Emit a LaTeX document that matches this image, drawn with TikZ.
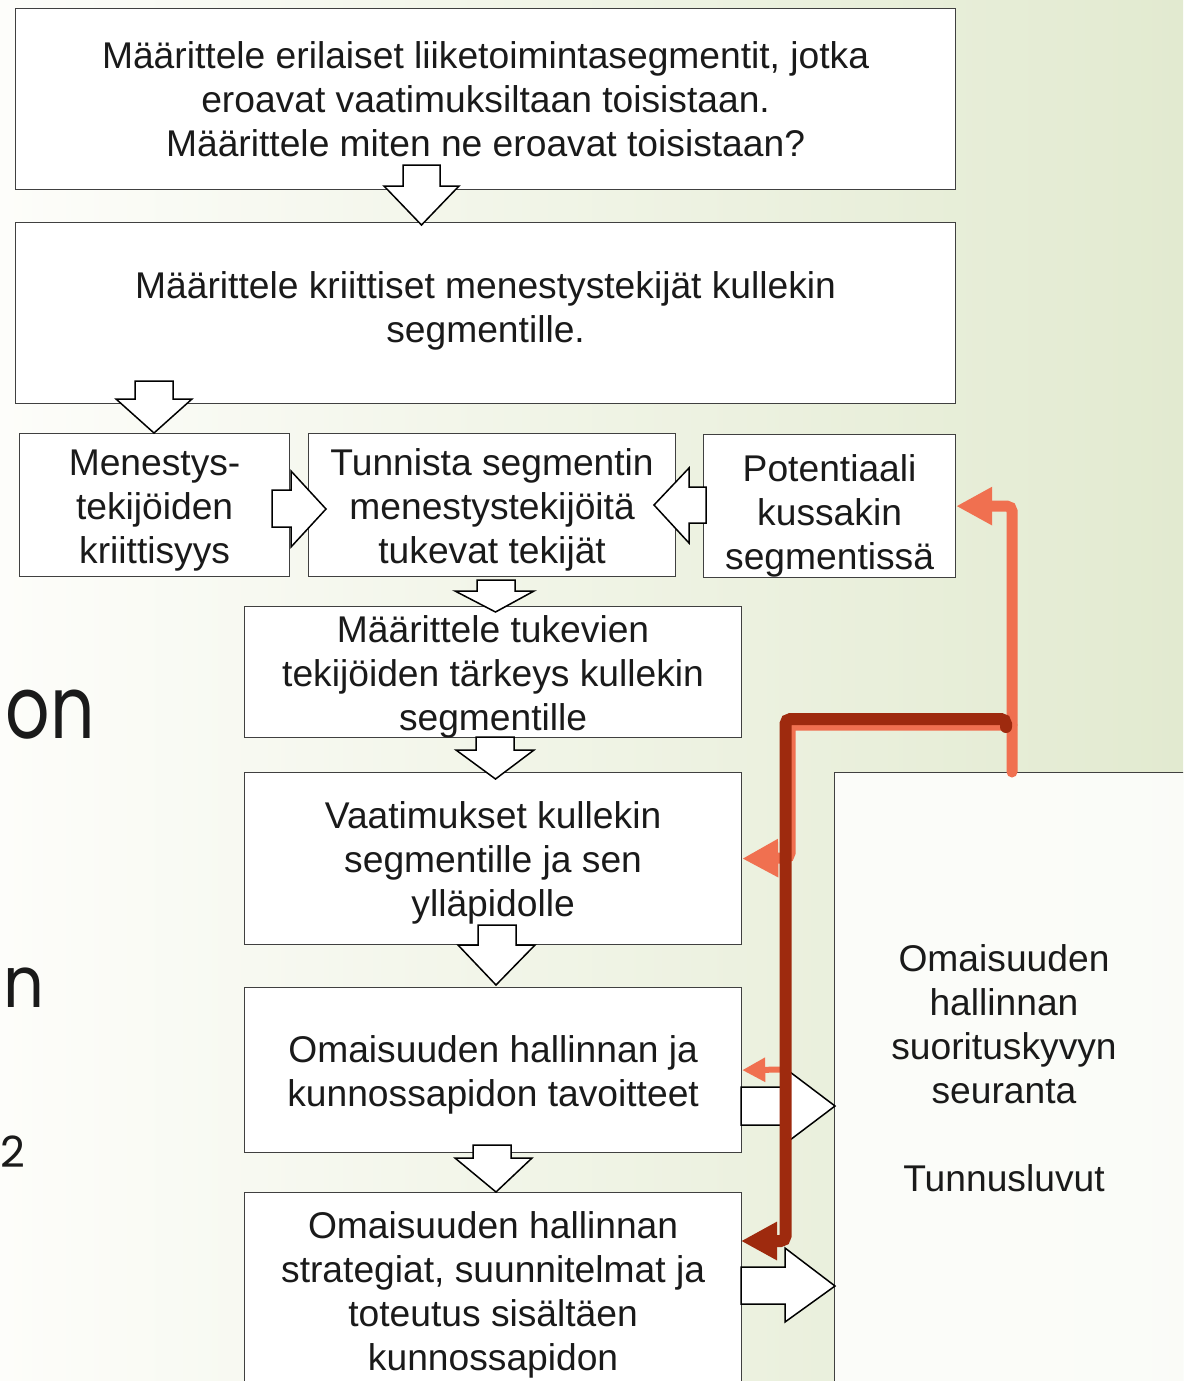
\documentclass[tikz,border=0pt]{standalone}
\usepackage{fontspec}
\setmainfont{Liberation Sans}
\newfontfamily\gothic{Poppins}
\usetikzlibrary{arrows.meta}
\definecolor{txt}{RGB}{26,26,26}
\definecolor{boxline}{RGB}{64,64,64}
\definecolor{orangeln}{RGB}{240,112,80}
\definecolor{darkred}{RGB}{158,42,14}
\definecolor{bgA}{RGB}{253,253,250}
\definecolor{bgB}{RGB}{226,234,208}
\begin{document}
\begin{tikzpicture}[x=1pt,y=-1pt,
  box/.style={draw=boxline, line width=1.2pt, fill=white, inner sep=0pt, anchor=north west},
  boxtext/.style={text=txt, align=center, inner sep=0pt, font=\fontsize{37.2}{44}\selectfont},
  sidetext/.style={text=txt, inner sep=0pt, anchor=base east},
  barrow/.style={draw=black, line width=1.5pt, fill=white, line join=miter},
  orangeconn/.style={draw=orangeln, line width=11pt, line cap=round, rounded corners=5pt,
    -{Triangle[length=36pt,width=36pt]}},
  orangesmall/.style={draw=orangeln, line width=6pt, -{Triangle[length=23pt,width=23pt]}},
  redconn/.style={draw=darkred, line width=12pt, line cap=round, rounded corners=5pt,
    -{Triangle[length=36pt,width=36pt]}}
]
\useasboundingbox (0,0) rectangle (1183,1381);
\clip (0,0) rectangle (1183,1381);
% background
\shade[left color=bgA, right color=bgB] (0,0) rectangle (1183,1381);

% left fragments
\node[sidetext, font=\gothic\fontsize{87}{100}\selectfont] (t1) at (95,738) {\scalebox{0.8}[1]{on}};
\node[sidetext, font=\gothic\fontsize{71}{80}\selectfont] (t2) at (45,1007) {\scalebox{0.9}[1]{n}};
\node[sidetext, font=\gothic\fontsize{43}{50}\selectfont] (t3) at (25,1167) {2};

% boxes
\node[box, minimum width=940, minimum height=181] (a) at (15,8) {};
\node[box, minimum width=940, minimum height=181] (b) at (15,222) {};
\node[box, minimum width=270, minimum height=143] (c1) at (19,433) {};
\node[box, minimum width=367, minimum height=143] (c2) at (308,433) {};
\node[box, minimum width=252, minimum height=143] (c3) at (703,434) {};
\node[box, minimum width=497, minimum height=131] (d) at (244,606) {};
\node[box, minimum width=497, minimum height=172] (e) at (244,772) {};
\node[box, minimum width=497, minimum height=165] (f) at (244,987) {};
\node[box, minimum width=497, minimum height=200] (g) at (244,1192) {};
\node[box, minimum width=400, minimum height=700, fill=white, fill opacity=0.85] (h) at (834,772) {};

% box texts
\node[boxtext] (at) at (a.center)
  {Määrittele erilaiset liiketoimintasegmentit, jotka\\ eroavat vaatimuksiltaan toisistaan.\\ Määrittele miten ne eroavat toisistaan?};
\node[boxtext, yshift=2pt] (bt) at (b.center)
  {Määrittele kriittiset menestystekijät kullekin\\ segmentille.};
\node[boxtext, yshift=-5pt] (c1t) at (c1.center) {Menestys-\\ tekijöiden\\ kriittisyys};
\node[boxtext, yshift=-5pt] (c2t) at (c2.center) {Tunnista segmentin\\ menestystekijöitä\\ tukevat tekijät};
\node[boxtext, yshift=-10pt] (c3t) at (c3.center) {Potentiaali\\ kussakin\\ segmentissä};
\node[boxtext, yshift=-5pt] (dt) at (d.center) {Määrittele tukevien\\ tekijöiden tärkeys kullekin\\ segmentille};
\node[boxtext, yshift=-4pt] (et) at (e.center) {Vaatimukset kullekin\\ segmentille ja sen\\ ylläpidolle};
\node[boxtext, yshift=-5pt] (ft) at (f.center) {Omaisuuden hallinnan ja\\ kunnossapidon tavoitteet};
\node[boxtext, yshift=-2pt] (gt) at (g.center)
  {Omaisuuden hallinnan\\ strategiat, suunnitelmat ja\\ toteutus sisältäen\\ kunnossapidon};
\node[boxtext, yshift=2pt] (ht) at (1004,1070)
  {Omaisuuden\\ hallinnan\\ suorituskyvyn\\ seuranta\\[44pt] Tunnusluvut};

% block arrows (down)
\draw[barrow] (403,165) -- (440,165) -- (440,186) -- (459,186) -- (421.5,225) -- (384,186) -- (403,186) -- cycle;
\draw[barrow] (135,381) -- (173,381) -- (173,399) -- (192,399) -- (154,433) -- (116,399) -- (135,399) -- cycle;
\draw[barrow] (477,580) -- (515,580) -- (515,591) -- (534,591) -- (495.5,612) -- (455,591) -- (477,591) -- cycle;
\draw[barrow] (476,737) -- (514,737) -- (514,750) -- (534,750) -- (495.5,779) -- (456,750) -- (476,750) -- cycle;
\draw[barrow] (478,925) -- (516,925) -- (516,945) -- (535,945) -- (496,985) -- (458,945) -- (478,945) -- cycle;
\draw[barrow] (473,1145) -- (511,1145) -- (511,1158) -- (532,1158) -- (496,1192) -- (455,1158) -- (473,1158) -- cycle;
% block arrows (sideways)
\draw[barrow] (272,490) -- (291,490) -- (291,471) -- (326,509) -- (291,547) -- (291,527) -- (272,527) -- cycle;
\draw[barrow] (706,487) -- (689,487) -- (689,468) -- (654,505) -- (689,543) -- (689,523) -- (706,523) -- cycle;
\draw[barrow] (741,1087) -- (790,1087) -- (790,1072) -- (835,1106) -- (790,1140) -- (790,1125) -- (741,1125) -- cycle;
\draw[barrow] (741,1267) -- (785,1267) -- (785,1248) -- (835,1286) -- (785,1322) -- (785,1304) -- (741,1304) -- cycle;

% connectors
\coordinate (os) at (1012,772);
\coordinate (os2) at (1012,725);
\coordinate (ocorner) at (790,725);
\coordinate (odown) at (790,858);
\coordinate (smalls) at (786,1069.5);
\coordinate (rs) at (1006,727);
\coordinate (rtop) at (1006,719);
\coordinate (rcorner) at (785.5,719);
\coordinate (rdown) at (785.5,1241);
\coordinate (gin) at (741,1241);

\draw[orangeconn] (os) |- (c3.east);
\draw[orangeconn] (os2) -- (ocorner) -- (odown) -- (e.east);
\draw[orangesmall] (smalls) -- (f.east);
\draw[redconn] (rs) -- (rtop) -- (rcorner) -- (rdown) -- (gin);
\end{tikzpicture}
\end{document}
